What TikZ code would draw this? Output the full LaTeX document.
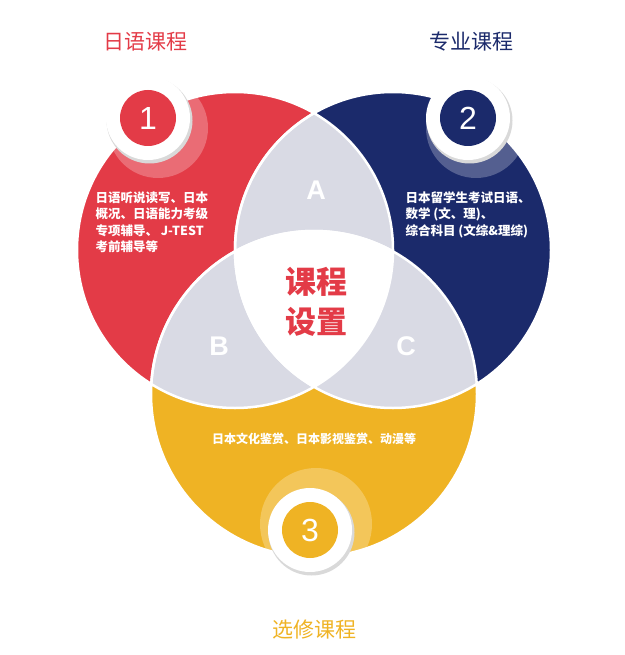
\documentclass[tikz,border=0pt]{standalone}
\usepackage{fontspec}
\setmainfont{Noto Sans CJK SC}
\newfontfamily\latinb{Liberation Sans}
\definecolor{cred}{HTML}{E33B47}
\definecolor{cnavy}{HTML}{1B2A6B}
\definecolor{cyel}{HTML}{EFB324}
\definecolor{cgray}{HTML}{D9DAE4}
\tikzset{body/.style={text=white,font=\bfseries\fontsize{12.5}{16.5}\selectfont,align=left,anchor=north west},
 letter/.style={text=white,font=\latinb\bfseries\fontsize{27}{27}\selectfont},
 title/.style={font=\fontsize{21}{21}\selectfont},
 num/.style={text=white,font=\latinb\fontsize{32}{32}\selectfont}}
\begin{document}
\begin{tikzpicture}[x=1pt,y=-1pt]
\useasboundingbox (0,0) rectangle (624,655);
\def\R{(235,250) circle (158)}
\def\B{(393,250) circle (158)}
\def\Y{(314,394) circle (163)}
\fill[cred] \R; \fill[cnavy] \B; \fill[cyel] \Y;
\begin{scope}\clip \R; \fill[cgray] \B; \fill[cgray] \Y;\end{scope}
\begin{scope}\clip \B; \fill[cgray] \Y;\end{scope}
\begin{scope}\clip \R; \clip \B; \fill[white] \Y;\end{scope}
% halos inside circles
\begin{scope}\clip \R; \fill[white,opacity=0.25] (158,128) circle (50);\end{scope}
\begin{scope}\clip \B; \fill[white,opacity=0.25] (476,128) circle (50);\end{scope}
\begin{scope}\clip \Y; \fill[white,opacity=0.25] (316,524) circle (56);\end{scope}
\draw[white,line width=2.5pt] \R \B \Y;
\begin{scope}\clip \R; \draw[white,line width=2.5pt] \B \Y;\end{scope}
% badges
\foreach \n/\x/\y/\c/\t in {b1/148/118/cred/1,b2/468/118/cnavy/2,b3/310/530/cyel/3}{
 \fill[black!15] (\x+1.5,\y+2.5) circle (43);
 \fill[white] (\x,\y) circle (42);
 \node[circle,fill=\c,minimum size=56pt,inner sep=0pt,num] (\n) at (\x,\y) {\t};
}
\node[title,text=cred] (t1) at (145,42) {日语课程};
\node[title,text=cnavy] (t2) at (471,42) {专业课程};
\node[title,text=cyel] (t3) at (314,630) {选修课程};
\node[letter] (A) at (316,190) {A};
\node[letter] (Bl) at (219,346) {B};
\node[letter] (C) at (406,346) {C};
\node[text=cred,font=\bfseries\fontsize{31}{40}\selectfont,align=center] (ctr) at (316,302) {课程\\设置};
\node[body] (d1) at (92,188) {日语听说读写、日本\\概况、日语能力考级\\专项辅导、 J-TEST\\考前辅导等};
\node[body] (d2) at (402,188) {日本留学生考试日语、\\数学 (文、理)、\\综合科目 (文综\&理综)};
\node[text=white,font=\bfseries\fontsize{12}{14}\selectfont] (d3) at (314,439) {日本文化鉴赏、日本影视鉴赏、动漫等};
\end{tikzpicture}
\end{document}
